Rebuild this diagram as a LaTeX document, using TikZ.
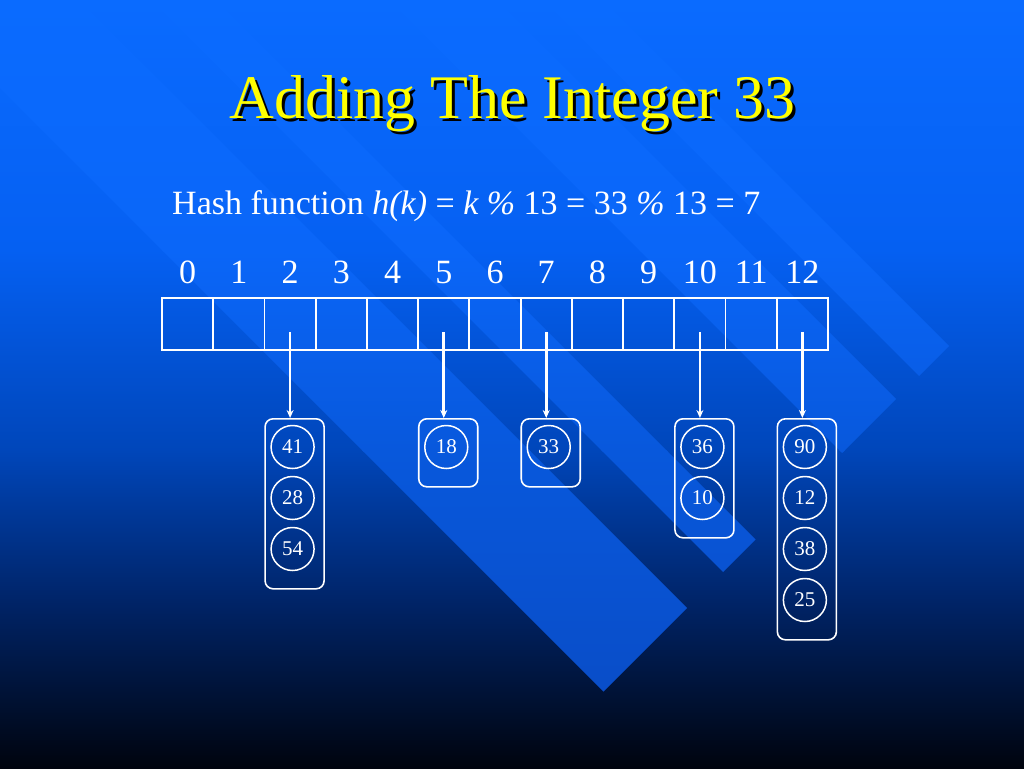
\documentclass[tikz,border=0pt]{standalone}
\usepackage{fontspec}
\setmainfont{Liberation Serif}
\usetikzlibrary{arrows.meta}
\definecolor{bgA}{HTML}{0A6BFF}
\definecolor{bgB}{HTML}{0560F2}
\definecolor{bgC}{HTML}{0046BA}
\definecolor{bgD}{HTML}{002468}
\definecolor{bgE}{HTML}{00040E}
\definecolor{stripeB}{HTML}{0A66F8}
\definecolor{stripeC}{HTML}{0858DC}
\definecolor{stripeD}{HTML}{0A4AC2}
\definecolor{titleyellow}{HTML}{FFFF00}

\begin{document}
\begin{tikzpicture}[x=1pt, y=-1pt,
  cell/.style={rectangle, draw=white, line width=1.8pt, minimum width=51.23pt,
    minimum height=52pt, inner sep=0pt},
  idx/.style={white, font=\fontsize{34}{40}\selectfont, anchor=base},
  chainbox/.style={rectangle, draw=white, line width=1.6pt, rounded corners=8pt,
    minimum width=59pt, anchor=north, inner sep=0pt},
  keynode/.style={circle, draw=white, line width=1.5pt, minimum size=43pt,
    inner sep=0pt, white, font=\fontsize{21}{24}\selectfont},
  ptr/.style={-{Stealth[length=8pt,width=7pt]}, white, line width=2.8pt},
]
  \useasboundingbox (0,0) rectangle (1024,768);
  % background
  \shade[top color=bgA, bottom color=bgB] (0,0) rectangle (1024,251);
  \shade[top color=bgB, bottom color=bgC] (0,250) rectangle (1024,451);
  \shade[top color=bgC, bottom color=bgD] (0,450) rectangle (1024,601);
  \shade[top color=bgD, bottom color=bgE] (0,600) rectangle (1024,768);
  % diagonal stripes
  \begin{scope}
    \clip \foreach \lo/\hi in {88/-79, -151/-216, -389/-497, -543/-603} {
        ({(-200-(\lo))/2},{(-200+(\lo))/2})
        -- ({(1295-(\lo))/2},{(1295+(\lo))/2})
        -- ({(1295-(\hi))/2},{(1295+(\hi))/2})
        -- ({(-200-(\hi))/2},{(-200+(\hi))/2}) -- cycle};
    \shade[top color=bgA, bottom color=stripeB] (0,0) rectangle (1024,251);
    \shade[top color=stripeB, bottom color=stripeC] (0,250) rectangle (1024,451);
    \shade[top color=stripeC, bottom color=stripeD] (0,450) rectangle (1024,768);
  \end{scope}

  % title
  \node[font=\fontsize{62}{70}\selectfont, black, anchor=base] (titleshade)
    at (515.5,121) {Adding The Integer 33};
  \node[font=\fontsize{62}{70}\selectfont, titleyellow, anchor=base] (title)
    at (512.5,118) {Adding The Integer 33};
  \node[white, font=\fontsize{34}{40}\selectfont, anchor=base west, inner sep=0pt]
    (hashfn) at (172,214)
    {Hash function \textit{h(k)} = \textit{k \%} 13 = 33 \textit{\%} 13 = 7};

  % table
  \foreach \i in {0,...,12} {
    \node[cell] (c\i) at ({162+51.23*(\i+0.5)},324) {};
    \node[idx] (n\i) at ({162+51.23*(\i+0.5)},283) {\i};
  }

  % chains
  \foreach \i/\keys/\n in {2/{41,28,54}/3, 5/{18}/1, 7/{33}/1,
      10/{36,10}/2, 12/{90,12,38,25}/4} {
    \pgfmathsetmacro\boxh{17+51*\n}
    \node[chainbox, minimum height=\boxh pt] (b\i)
      at ({162+51.23*(\i+0.5)+4.5},418) {};
    \foreach \k [count=\j from 0] in \keys
      \node[keynode] (k\k) at ({162+51.23*(\i+0.5)+2.5},{447+51*\j}) {\k};
    \coordinate (p\i) at ([yshift=-8pt]c\i.center);
    \draw[ptr] (p\i) -- (p\i |- b\i.north);
  }
\end{tikzpicture}
\end{document}
